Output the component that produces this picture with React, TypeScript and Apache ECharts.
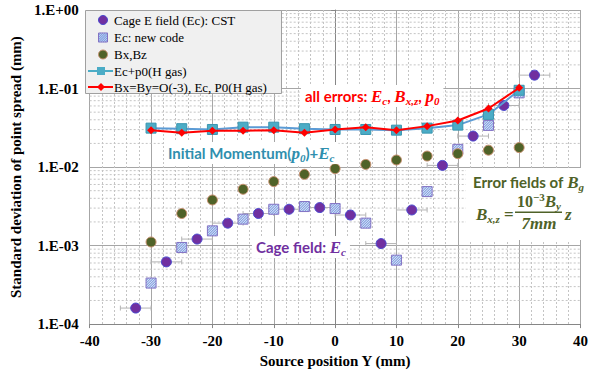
import React, { useEffect, useRef } from 'react';
import * as echarts from 'echarts';

// ---------------- data ----------------
const cstPositions = [-32.5, -27.5, -22.5, -17.5, -12.5, -7.5, -2.5, 2.5, 7.5, 12.5, 17.5, 22.5, 27.5, 32.5];
const cstValues = [1.6e-4, 6.2e-4, 1.21e-3, 1.93e-3, 2.56e-3, 2.9e-3, 3.05e-3, 2.45e-3, 1.06e-3, 2.84e-3, 0.0105, 0.0248, 0.0608, 0.148];
const cstXError = 2.5;

const sourcePositions = [-30, -25, -20, -15, -10, -5, 0, 5, 10, 15, 20, 25, 30];
const newCodeValues = [3.33e-4, 9.46e-4, 1.54e-3, 2.17e-3, 2.9e-3, 3.14e-3, 2.96e-3, 1.93e-3, 6.52e-4, 4.87e-3, 0.0168, 0.0339, 0.0881];
const bxbzValues = [1.11e-3, 2.56e-3, 3.81e-3, 5.21e-3, 6.53e-3, 8.08e-3, 9.54e-3, 0.0108, 0.0123, 0.0138, 0.0148, 0.0164, 0.0177];
const ecP0Values = [0.0313, 0.0308, 0.0301, 0.0322, 0.0322, 0.0308, 0.0301, 0.0301, 0.0295, 0.0313, 0.0342, 0.0468, 0.095];
const allErrorValues = [0.0295, 0.0274, 0.029, 0.029, 0.0295, 0.0274, 0.0301, 0.0322, 0.0295, 0.0332, 0.0392, 0.0557, 0.102];

const legendNames = [
  'Cage E field (Ec): CST',
  'Ec: new code',
  'Bx,Bz',
  'Ec+p0(H gas)',
  'Bx=By=O(-3), Ec, P0(H gas)',
];

const xMin = -40;
const xMax = 40;
const xInterval = 10;
const yMin = 1e-4;
const yMax = 1;
const decades = [1e-4, 1e-3, 1e-2, 1e-1];
const minorMultipliers = [2, 3, 4, 5, 6, 7, 8, 9];

// ---------------- styles ----------------
const SERIF = 'Liberation Serif';
const SANS = 'Lato';
const PURPLE = '#7030a0';
const OLIVE = '#4f6228';
const TEAL = '#4bacc6';
const TEAL_LINE = '#5b9bd5';
const RED = '#ff0000';
const GRID_MAJOR = '#a6a6a6';
const GRID_MINOR = '#c4c4c4';

function hatchedSquare(cx: number, cy: number, s: number, z?: number): any {
  const x0 = cx - s / 2;
  const y0 = cy - s / 2;
  const children: any[] = [
    { type: 'rect', shape: { x: x0, y: y0, width: s, height: s }, style: { fill: '#eef2fb' } },
  ];
  const step = s / 4;
  for (let c = step; c < 2 * s - 0.01; c += step) {
    let a: number[];
    let b: number[];
    if (c <= s) {
      a = [x0, y0 + c];
      b = [x0 + c, y0];
    } else {
      a = [x0 + c - s, y0 + s];
      b = [x0 + s, y0 + c - s];
    }
    children.push({
      type: 'line',
      shape: { x1: a[0], y1: a[1], x2: b[0], y2: b[1] },
      style: { stroke: '#7f9fe0', lineWidth: 1.1 },
    });
  }
  children.push({
    type: 'rect',
    shape: { x: x0, y: y0, width: s, height: s },
    style: { fill: 'none', stroke: '#8272c4', lineWidth: 1 },
  });
  if (z !== undefined) children.forEach((c) => (c.z = z));
  return { type: 'group', children };
}

function expLabel(v: number): string {
  const e = Math.round(Math.log10(v));
  const sign = e >= 0 ? '+' : '-';
  return '1.E' + sign + String(Math.abs(e)).padStart(2, '0');
}

function buildLegend(): any[] {
  const x0 = 85.5;
  const y0 = 10.5;
  const rows = [20, 37.5, 54.5, 71, 87];
  const tx = 114;
  const Z = 51;
  const els: any[] = [
    {
      type: 'rect',
      shape: { x: x0, y: y0, width: 196, height: 83 },
      style: { fill: '#f0f0f0', stroke: '#a0a0a0', lineWidth: 1 },
      z: 50,
    },
    { type: 'circle', z: Z, shape: { cx: 103, cy: rows[0], r: 4.5 }, style: { fill: PURPLE, stroke: '#4a4ad0', lineWidth: 1 } },
    hatchedSquare(103, rows[1], 9, Z),
    { type: 'circle', z: Z, shape: { cx: 103, cy: rows[2], r: 4.5 }, style: { fill: OLIVE, stroke: '#c89070', lineWidth: 1 } },
    { type: 'line', z: Z, shape: { x1: 88, y1: rows[3], x2: 113, y2: rows[3] }, style: { stroke: TEAL, lineWidth: 2 } },
    { type: 'rect', z: Z, shape: { x: 97, y: rows[3] - 4, width: 8, height: 8 }, style: { fill: TEAL } },
    { type: 'line', z: Z, shape: { x1: 88, y1: rows[4], x2: 113, y2: rows[4] }, style: { stroke: RED, lineWidth: 2 } },
    {
      type: 'polygon',
      z: Z,
      shape: { points: [[101, rows[4] - 4], [105, rows[4]], [101, rows[4] + 4], [97, rows[4]]] },
      style: { fill: RED },
    },
  ];
  legendNames.forEach((name, i) => {
    els.push({
      type: 'text',
      x: tx,
      y: rows[i],
      z: Z,
      style: {
        text: name,
        fill: '#000',
        font: `13px "${SERIF}"`,
        align: 'left',
        verticalAlign: 'middle',
        textAlign: 'left',
        textVerticalAlign: 'middle',
      },
    });
  });
  return els;
}

function richFor(color: string, base: number) {
  return {
    a: { fill: color, fontFamily: SANS, fontWeight: 'bold', fontSize: base, lineHeight: 20 },
    m: { fill: color, fontFamily: SERIF, fontStyle: 'italic', fontWeight: 'bold', fontSize: base + 2, lineHeight: 20 },
    n: { fill: color, fontFamily: SERIF, fontWeight: 'bold', fontSize: base + 1, lineHeight: 20 },
    s: { fill: color, fontFamily: SERIF, fontStyle: 'italic', fontWeight: 'bold', fontSize: 11, lineHeight: 13, verticalAlign: 'bottom' },
    p: { fill: color, fontFamily: SERIF, fontWeight: 'bold', fontSize: 11, lineHeight: 13, verticalAlign: 'top' },
    e: { fill: color, fontFamily: SERIF, fontWeight: 'bold', fontSize: base + 2, lineHeight: 20 },
  };
}

function annotation(text: string, x: number, y: number, color: string, base: number, align = 'left', bg = true): any {
  return {
    type: 'text',
    x,
    y,
    z: 40,
    style: {
      text,
      rich: richFor(color, base),
      fill: color,
      align,
      verticalAlign: 'middle',
      textAlign: align,
      textVerticalAlign: 'middle',
      backgroundColor: bg ? '#ffffff' : undefined,
      padding: bg ? [1, 4, 1, 4] : 0,
    },
  };
}

function buildAnnotations(): any[] {
  return [
    annotation('{a|all errors: }{m|E}{s|c}{a|, }{m|B}{s|x,z}{a|, }{m|p}{s|0}', 301, 96, RED, 15),
    annotation('{a|Initial Momentum(}{m|p}{s|0}{a|)+}{m|E}{s|c}', 164, 153, '#2f8fae', 15),
    annotation('{a|Cage field: }{m|E}{s|c}', 252, 247, PURPLE, 15),
    {
      type: 'rect',
      z: 39,
      shape: { x: 466, y: 168, width: 120, height: 72 },
      style: { fill: '#ffffff' },
    },
    annotation('{a|Error fields of }{m|B}{s|g}', 473, 182, OLIVE, 15, 'left', false),
    annotation('{m|B}{s|x,z}{e| = }', 476, 214, OLIVE, 15, 'left', false),
    annotation('{n|10}{p|−3}{m|B}{s|y}', 539, 201, OLIVE, 15, 'center', false),
    {
      type: 'rect',
      z: 45,
      shape: { x: 515, y: 211.5, width: 47, height: 1.6 },
      style: { fill: OLIVE },
    },
    annotation('{m|7mm}', 539, 223, OLIVE, 15, 'center', false),
    annotation('{m|z}', 565, 214, OLIVE, 15, 'left', false),
  ];
}

export default function App() {
  const ref = useRef<HTMLDivElement>(null);

  useEffect(() => {
    if (!ref.current) return;
    document.body.style.margin = '0';
    const chart = echarts.init(ref.current, undefined, { renderer: 'svg' });

    const minorY: number[][] = [];
    decades.forEach((d) => minorMultipliers.forEach((m) => minorY.push([0, d * m])));

    const axisLabelStyle = { fontFamily: SERIF, fontWeight: 'bold' as const, fontSize: 15, color: '#000' };

    chart.setOption({
      animation: false,
      backgroundColor: '#ffffff',
      grid: { left: 85, right: 7, top: 10, bottom: 48, containLabel: false },
      xAxis: {
        type: 'value',
        min: xMin,
        max: xMax,
        interval: xInterval,
        name: 'Source position Y (mm)',
        nameLocation: 'middle',
        nameGap: 24,
        nameTextStyle: { fontFamily: SERIF, fontWeight: 'bold', fontSize: 15, color: '#000' },
        axisLine: { show: true, onZero: false, lineStyle: { color: '#868686' } },
        axisTick: { show: true, length: 4, lineStyle: { color: '#868686' } },
        axisLabel: { ...axisLabelStyle, margin: 9 },
        splitLine: { show: true, lineStyle: { color: GRID_MAJOR, width: 1 } },
        minorTick: { show: false, splitNumber: 5 },
        minorSplitLine: { show: true, lineStyle: { color: GRID_MINOR, width: 1, type: [2, 2] } },
      },
      yAxis: {
        type: 'log',
        logBase: 10,
        min: yMin,
        max: yMax,
        name: 'Standard deviation of point spread (mm)',
        nameLocation: 'middle',
        nameGap: 64,
        nameTextStyle: { fontFamily: SERIF, fontWeight: 'bold', fontSize: 15, color: '#000' },
        axisLine: { show: true, lineStyle: { color: '#868686' } },
        axisTick: { show: true, length: 4, lineStyle: { color: '#868686' } },
        axisLabel: { ...axisLabelStyle, margin: 11, formatter: (v: number) => expLabel(v) },
        splitLine: { show: true, lineStyle: { color: GRID_MAJOR, width: 1 } },
      },
      series: [
        {
          type: 'custom',
          name: 'minor-grid',
          silent: true,
          z: 1,
          data: minorY,
          renderItem: (params: any, api: any) => {
            const cs = params.coordSys;
            const y = api.coord([xMin, api.value(1)])[1];
            return {
              type: 'line',
              shape: { x1: cs.x, y1: y, x2: cs.x + cs.width, y2: y },
              style: { stroke: GRID_MINOR, lineWidth: 1, lineDash: [2, 2] },
            };
          },
        },
        {
          type: 'custom',
          name: 'cst-error',
          silent: true,
          z: 3,
          data: cstPositions.map((x, i) => [x, cstValues[i]]),
          renderItem: (params: any, api: any) => {
            const x = api.value(0);
            const y = api.value(1);
            const p1 = api.coord([x - cstXError, y]);
            const p2 = api.coord([x + cstXError, y]);
            const st = { stroke: '#b4b4b4', lineWidth: 1 };
            return {
              type: 'group',
              children: [
                { type: 'line', shape: { x1: p1[0], y1: p1[1], x2: p2[0], y2: p2[1] }, style: st },
                { type: 'line', shape: { x1: p1[0], y1: p1[1] - 2.5, x2: p1[0], y2: p1[1] + 2.5 }, style: st },
                { type: 'line', shape: { x1: p2[0], y1: p2[1] - 2.5, x2: p2[0], y2: p2[1] + 2.5 }, style: st },
              ],
            };
          },
        },
        {
          type: 'custom',
          name: legendNames[1],
          z: 4,
          data: sourcePositions.map((x, i) => [x, newCodeValues[i]]),
          renderItem: (params: any, api: any) => {
            const p = api.coord([api.value(0), api.value(1)]);
            return hatchedSquare(p[0], p[1], 10);
          },
        },
        {
          type: 'scatter',
          name: legendNames[0],
          z: 5,
          symbol: 'circle',
          symbolSize: 10,
          itemStyle: { color: PURPLE, borderColor: '#4a4ad0', borderWidth: 1, opacity: 1 },
          data: cstPositions.map((x, i) => [x, cstValues[i]]),
        },
        {
          type: 'scatter',
          name: legendNames[2],
          z: 5,
          symbol: 'circle',
          symbolSize: 10,
          itemStyle: { color: OLIVE, borderColor: '#c89070', borderWidth: 1, opacity: 1 },
          data: sourcePositions.map((x, i) => [x, bxbzValues[i]]),
        },
        {
          type: 'line',
          name: legendNames[3],
          z: 6,
          symbol: 'rect',
          symbolSize: 10,
          lineStyle: { color: TEAL_LINE, width: 2 },
          itemStyle: { color: TEAL, borderColor: '#3a96b0', borderWidth: 1 },
          data: sourcePositions.map((x, i) => [x, ecP0Values[i]]),
        },
        {
          type: 'line',
          name: legendNames[4],
          z: 7,
          symbol: 'diamond',
          symbolSize: 8,
          lineStyle: { color: RED, width: 2 },
          itemStyle: { color: RED },
          data: sourcePositions.map((x, i) => [x, allErrorValues[i]]),
        },
      ],
      graphic: { elements: [...buildLegend(), ...buildAnnotations()] },
    });

    return () => chart.dispose();
  }, []);

  return <div ref={ref} style={{ position: 'fixed', left: 0, top: 0, width: 591, height: 373 }} />;
}
